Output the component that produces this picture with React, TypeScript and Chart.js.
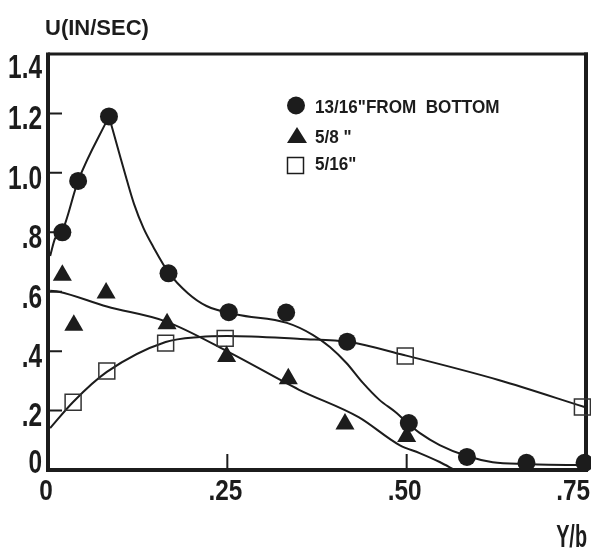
import React, { useEffect, useRef } from 'react';
import { Chart, registerables } from 'chart.js';

Chart.register(...registerables);

const W = 591;
const H = 552;

// ---- data ----
const circleX = [0.02, 0.042, 0.085, 0.168, 0.252, 0.332, 0.417, 0.503, 0.584, 0.667, 0.748];
const circleY = [0.80, 0.973, 1.19, 0.662, 0.531, 0.530, 0.432, 0.158, 0.044, 0.024, 0.024];

const triangleX = [0.02, 0.036, 0.081, 0.166, 0.249, 0.335, 0.414, 0.5];
const triangleY = [0.655, 0.487, 0.596, 0.492, 0.382, 0.307, 0.155, 0.113];

const squareX = [0.035, 0.082, 0.164, 0.247, 0.498, 0.745];
const squareY = [0.228, 0.333, 0.427, 0.443, 0.384, 0.212];

// hand-drawn fitted curves
const circleRiseX = [0.003, 0.010, 0.019, 0.042, 0.085];
const circleRiseY = [0.72, 0.78, 0.80, 0.973, 1.19];
const circleFallX = [0.085, 0.100, 0.110, 0.120, 0.133, 0.147, 0.168, 0.195, 0.221, 0.263, 0.333, 0.369, 0.393, 0.416, 0.439, 0.462, 0.486, 0.501, 0.518, 0.546, 0.584, 0.620, 0.667, 0.723, 0.748];
const circleFallY = [1.19, 1.06, 0.975, 0.895, 0.815, 0.75, 0.665, 0.595, 0.552, 0.523, 0.495, 0.455, 0.414, 0.36, 0.293, 0.236, 0.192, 0.158, 0.125, 0.084, 0.047, 0.026, 0.02, 0.017, 0.017];

const triCurveX = [0.003, 0.015, 0.082, 0.164, 0.254, 0.35, 0.433, 0.49, 0.518, 0.546, 0.567];
const triCurveY = [0.603, 0.60, 0.55, 0.50, 0.394, 0.27, 0.178, 0.084, 0.057, 0.027, 0.0];

const sqCurveX = [0.003, 0.035, 0.082, 0.164, 0.212, 0.25, 0.352, 0.42, 0.496, 0.628, 0.748];
const sqCurveY = [0.141, 0.229, 0.33, 0.431, 0.448, 0.451, 0.441, 0.431, 0.387, 0.303, 0.212];

const xTicks = [0, 0.25, 0.5, 0.75];
const xTickLabels = ['0', '.25', '.50', '.75'];
const yTicks = [0, 0.2, 0.4, 0.6, 0.8, 1.0, 1.2, 1.4];
const yTickLabels = ['0', '.2', '.4', '.6', '.8', '1.0', '1.2', '1.4'];

const legendLabels = ['13/16"FROM  BOTTOM', '5/8 "', '5/16"'];
const yTitle = 'U(IN/SEC)';
const xTitle = 'Y/b';

const INK = '#1c1c1c';
const FONT = "'Liberation Sans', Arial, sans-serif";

const pts = (xs: number[], ys: number[]) => xs.map((x, i) => ({ x, y: ys[i] }));

function condText(
  ctx: CanvasRenderingContext2D,
  text: string,
  x: number,
  cy: number,
  size: number,
  sx: number,
  align: 'left' | 'right' | 'center'
) {
  ctx.save();
  ctx.font = `bold ${size}px ${FONT}`;
  ctx.textBaseline = 'alphabetic';
  ctx.textAlign = 'left';
  const w = ctx.measureText(text).width * sx;
  let left = align === 'left' ? x : align === 'right' ? x - w : x - w / 2;
  ctx.translate(left, cy + 0.358 * size);
  ctx.scale(sx, 1);
  ctx.fillStyle = INK;
  ctx.fillText(text, 0, 0);
  ctx.restore();
  return w;
}

const decor = {
  id: 'decor',
  beforeDatasetsDraw(chart: any) {
    const ctx: CanvasRenderingContext2D = chart.ctx;
    const { left, right, top, bottom } = chart.chartArea;
    const xs = chart.scales.x;
    const ys = chart.scales.y;
    ctx.save();
    ctx.strokeStyle = INK;
    ctx.lineCap = 'butt';
    // frame
    ctx.lineWidth = 3;
    ctx.beginPath();
    ctx.moveTo(left, top);
    ctx.lineTo(right + 2, top);
    ctx.stroke();
    ctx.lineWidth = 4;
    ctx.beginPath();
    ctx.moveTo(left, top - 1.5);
    ctx.lineTo(left, bottom + 2);
    ctx.moveTo(left - 2, bottom);
    ctx.lineTo(right + 2, bottom);
    ctx.moveTo(right, top - 1.5);
    ctx.lineTo(right, bottom + 2);
    ctx.stroke();
    // inward ticks
    ctx.lineWidth = 2;
    ctx.beginPath();
    yTicks.forEach((v) => {
      if (v <= 0 || v >= 1.4) return;
      const py = ys.getPixelForValue(v);
      ctx.moveTo(left + 2, py);
      ctx.lineTo(left + 14, py);
    });
    xTicks.forEach((v) => {
      if (v <= 0 || v >= 0.75) return;
      const px = xs.getPixelForValue(v);
      ctx.moveTo(px, bottom - 2);
      ctx.lineTo(px, bottom - 16);
    });
    ctx.stroke();
    ctx.restore();
  },
  afterDraw(chart: any) {
    const ctx: CanvasRenderingContext2D = chart.ctx;
    const { top, bottom } = chart.chartArea;
    const xs = chart.scales.x;
    const ys = chart.scales.y;
    // y tick labels
    yTicks.forEach((v, i) => {
      let cy = ys.getPixelForValue(v) + 4;
      cy = Math.max(top + 12, Math.min(bottom - 9, cy));
      condText(ctx, yTickLabels[i], 42, cy, 33, 0.74, 'right');
    });
    // x tick labels
    xTicks.forEach((v, i) => {
      ctx.save();
      ctx.font = `bold 29px ${FONT}`;
      const w = ctx.measureText(xTickLabels[i]).width * 0.84;
      ctx.restore();
      let cx = xs.getPixelForValue(v) - 2;
      if (cx + w / 2 > W - 1) cx = W - 1 - w / 2;
      condText(ctx, xTickLabels[i], cx, 490, 29, 0.84, 'center');
    });
    // axis titles
    condText(ctx, yTitle, 45, 27, 22, 1.0, 'left');
    condText(ctx, xTitle, 587, 536, 32, 0.62, 'right');

    // legend
    ctx.save();
    ctx.fillStyle = INK;
    ctx.strokeStyle = INK;
    ctx.beginPath();
    ctx.arc(296, 105.5, 9, 0, Math.PI * 2);
    ctx.fill();
    ctx.beginPath();
    ctx.moveTo(297, 127);
    ctx.lineTo(307, 143);
    ctx.lineTo(287, 143);
    ctx.closePath();
    ctx.fill();
    ctx.lineWidth = 1.5;
    ctx.strokeRect(287.5, 157.5, 16, 16);
    ctx.restore();
    condText(ctx, legendLabels[0], 315, 107, 18, 0.95, 'left');
    condText(ctx, legendLabels[1], 315, 136.5, 18, 0.95, 'left');
    condText(ctx, legendLabels[2], 315, 164, 18, 0.95, 'left');
  },
};

export default function App() {
  const ref = useRef<HTMLCanvasElement | null>(null);

  useEffect(() => {
    if (!ref.current) return;
    const curve = (xs: number[], ys: number[]) => ({
      data: pts(xs, ys),
      showLine: true,
      pointRadius: 0,
      borderColor: INK,
      borderWidth: 2,
      backgroundColor: INK,
      cubicInterpolationMode: 'monotone' as const,
      fill: false,
    });
    const chart = new Chart(ref.current, {
      type: 'scatter',
      data: {
        datasets: [
          {
            label: legendLabels[0],
            data: pts(circleX, circleY),
            pointStyle: 'circle',
            pointRadius: 9,
            backgroundColor: INK,
            borderColor: INK,
            borderWidth: 0,
            clip: false,
          },
          {
            label: legendLabels[1],
            data: pts(triangleX, triangleY),
            pointStyle: 'triangle',
            pointRadius: 11,
            backgroundColor: INK,
            borderColor: INK,
            borderWidth: 0,
            clip: false,
          },
          {
            label: legendLabels[2],
            data: pts(squareX, squareY),
            pointStyle: 'rect',
            pointRadius: 11.3,
            backgroundColor: 'rgba(0,0,0,0)',
            borderColor: '#333',
            borderWidth: 1.5,
            clip: false,
          },
          curve(circleRiseX, circleRiseY),
          curve(circleFallX, circleFallY),
          curve(triCurveX, triCurveY),
          curve(sqCurveX, sqCurveY),
        ] as any,
      },
      options: {
        animation: false,
        responsive: false,
        devicePixelRatio: 1,
        layout: { autoPadding: false, padding: { left: 48, top: 54, right: 5, bottom: 82 } },
        plugins: {
          legend: { display: false },
          tooltip: { enabled: false },
        },
        scales: {
          x: { type: 'linear', min: 0, max: 0.75, display: false, ticks: { display: false }, grid: { display: false } },
          y: { type: 'linear', min: 0, max: 1.4, display: false, ticks: { display: false }, grid: { display: false } },
        },
      },
      plugins: [decor],
    });
    return () => chart.destroy();
  }, []);

  return (
    <div style={{ position: 'absolute', left: 0, top: 0, width: W, height: H, background: '#fff' }}>
      <canvas ref={ref} width={W} height={H} style={{ display: 'block' }} />
    </div>
  );
}
